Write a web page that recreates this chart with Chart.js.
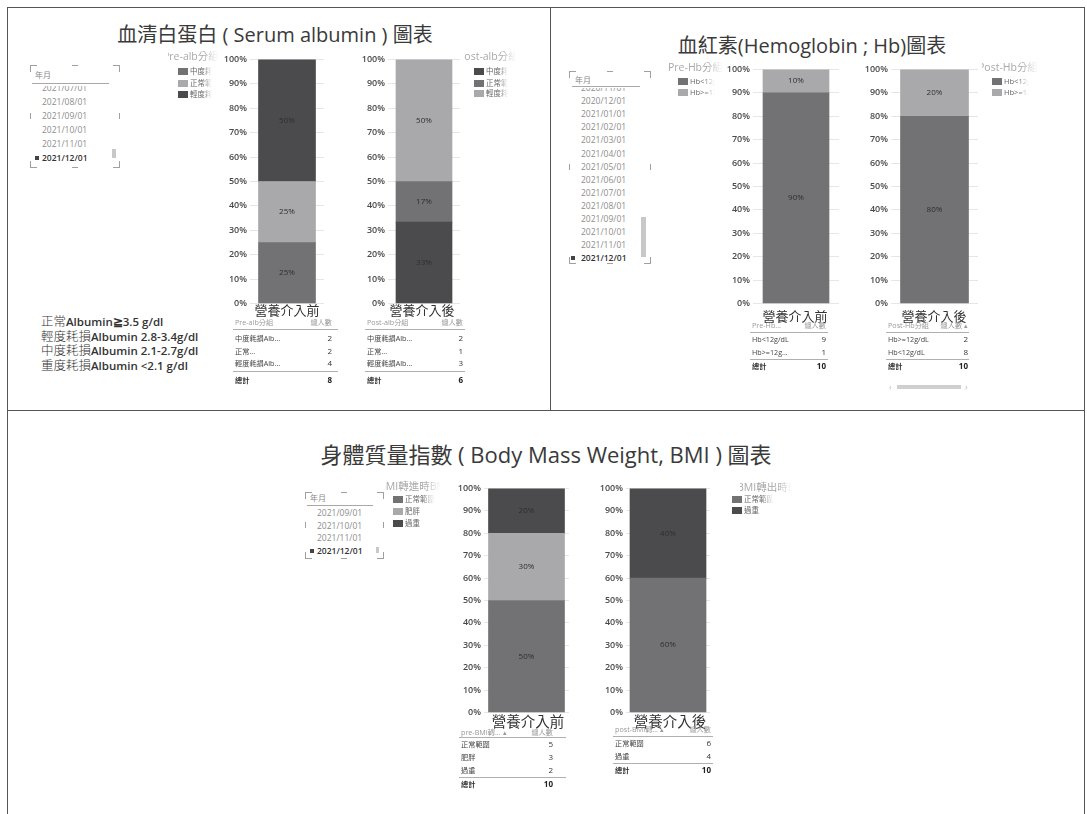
<!DOCTYPE html>
<html>
<head>
<meta charset="utf-8">
<script src="https://cdn.jsdelivr.net/npm/chart.js@4.4.1/dist/chart.umd.min.js"></script>
<style>
  body { margin: 0; background: #fff; font-family: "Open Sans", "Noto Sans CJK TC", sans-serif; }
  #page { position: relative; width: 1087px; height: 814px; overflow: hidden; background: #fff; }
  #page div, #page span { white-space: nowrap; }
  canvas { position: absolute; }
</style>
</head>
<body>
<div id="page"></div>
<script>
// ---- data ----
const pctTicks = [0, 10, 20, 30, 40, 50, 60, 70, 80, 90, 100];

const preAlbGroups = ["中度耗損Alb...", "正常...", "輕度耗損Alb..."];
const preAlbCounts = [2, 2, 4];
const postAlbGroups = ["中度耗損Alb...", "正常...", "輕度耗損Alb..."];
const postAlbCounts = [2, 1, 3];

const preHbGroups = ["Hb<12g/dL", "Hb>=12g..."];
const preHbCounts = [9, 1];
const postHbGroups = ["Hb<12g/dL", "Hb>=12g/dL"];
const postHbCounts = [8, 2];

const preBmiGroups = ["正常範圍", "肥胖", "過重"];
const preBmiCounts = [5, 3, 2];
const postBmiGroups = ["正常範圍", "過重"];
const postBmiCounts = [6, 4];

const albDates = ["2021/07/01", "2021/08/01", "2021/09/01", "2021/10/01", "2021/11/01", "2021/12/01"];
const hbDates = ["2020/11/01", "2020/12/01", "2021/01/01", "2021/02/01", "2021/03/01", "2021/04/01", "2021/05/01",
  "2021/06/01", "2021/07/01", "2021/08/01", "2021/09/01", "2021/10/01", "2021/11/01", "2021/12/01"];
const bmiDates = ["2021/09/01", "2021/10/01", "2021/11/01", "2021/12/01"];

const albNotes = [
  ["正常", "Albumin≧3.5 g/dl"],
  ["輕度耗損", "Albumin 2.8-3.4g/dl"],
  ["中度耗損", "Albumin 2.1-2.7g/dl"],
  ["重度耗損", "Albumin <2.1 g/dl"]
];

// ---- greys ----
const DARK = "#4b4b4d", MID = "#727274", LIGHT = "#a9a9ab";

const page = document.getElementById("page");

function el(css, text) {
  const d = document.createElement("div");
  d.style.cssText = "position:absolute;" + css;
  if (text != null) d.textContent = text;
  page.appendChild(d);
  return d;
}

function hline(x1, x2, y, color, h) {
  el(`left:${x1}px;top:${y}px;width:${x2 - x1}px;height:${h || 1}px;background:${color};`);
}
function vline(x, y1, y2, color, w) {
  el(`left:${x}px;top:${y1}px;width:${w || 1}px;height:${y2 - y1}px;background:${color};`);
}

// frame
hline(7, 1085, 7, "#555");
vline(7, 7, 814, "#555");
vline(1084, 7, 814, "#555");
vline(550, 7, 410, "#555");
hline(7, 1085, 410, "#555");

// titles
function title(cx, cy, text, size) {
  el(`left:${cx}px;top:${cy}px;transform:translate(-50%,-50%);font-size:${size}px;color:#3a3a3a;`, text);
}
title(275, 33, "血清白蛋白 ( Serum albumin ) 圖表", 20);
title(812, 44, "血紅素(Hemoglobin ; Hb)圖表", 20);
title(546, 453, "身體質量指數 ( Body Mass Weight, BMI ) 圖表", 22);

// slicer box with corner marks
function slicer(o) {
  const c = "#a0a0a0", k = 6;
  const { x1, y1, x2, y2 } = o;
  el(`left:${x1}px;top:${y1}px;width:${k}px;height:${k}px;border-left:1px solid ${c};border-top:1px solid ${c};`);
  el(`left:${x2 - k}px;top:${y1}px;width:${k}px;height:${k}px;border-right:1px solid ${c};border-top:1px solid ${c};`);
  el(`left:${x1}px;top:${y2 - k}px;width:${k}px;height:${k}px;border-left:1px solid ${c};border-bottom:1px solid ${c};`);
  el(`left:${x2 - k}px;top:${y2 - k}px;width:${k}px;height:${k}px;border-right:1px solid ${c};border-bottom:1px solid ${c};`);
  const mx = (x1 + x2) / 2, my = (y1 + y2) / 2;
  hline(mx - 3, mx + 3, y1, c);
  hline(mx - 3, mx + 3, y2, c);
  vline(x1, my - 3, my + 3, c);
  vline(x2, my - 3, my + 3, c);
  el(`left:${o.headX}px;top:${o.headY - 6}px;font-size:8px;color:#8a8a8a;`, "年月");
  hline(o.lineX1, o.lineX2, o.lineY, "#a8a8a8");
  const clip = el(`left:${x1}px;top:${o.clipTop}px;width:${x2 - x1}px;height:${o.clipBottom - o.clipTop}px;overflow:hidden;`);
  o.dates.forEach((d, i) => {
    const last = i === o.dates.length - 1;
    const row = document.createElement("div");
    const y = o.firstY + o.step * i - o.clipTop;
    row.style.cssText = `position:absolute;left:${o.dateX - x1}px;top:${y - 6}px;font-size:8.5px;line-height:12px;` +
      (last ? "color:#333;font-weight:600;" : "color:#8d8d8d;");
    row.textContent = d;
    clip.appendChild(row);
    if (last) {
      const b = document.createElement("div");
      b.style.cssText = `position:absolute;left:${o.bulletX - x1}px;top:${y - 2}px;width:4px;height:4px;background:#444;`;
      clip.appendChild(b);
    }
  });
  if (o.thumb) el(`left:${o.thumb[0]}px;top:${o.thumb[1]}px;width:${o.thumb[2]}px;height:${o.thumb[3]}px;background:#c8c8c8;`);
}

slicer({ x1: 30, y1: 65, x2: 119, y2: 167, headX: 35, headY: 75, lineX1: 32, lineX2: 109, lineY: 83,
  clipTop: 86, clipBottom: 165, dates: albDates, dateX: 42, bulletX: 35, firstY: 88, step: 14, thumb: [112, 149, 4, 9] });
slicer({ x1: 569, y1: 71, x2: 650, y2: 263, headX: 575, headY: 80, lineX1: 572, lineX2: 640, lineY: 86,
  clipTop: 88, clipBottom: 263, dates: hbDates, dateX: 581, bulletX: 571, firstY: 88, step: 13.1, thumb: [641, 217, 5, 40] });
slicer({ x1: 305, y1: 492, x2: 383, y2: 558, headX: 310, headY: 498, lineX1: 307, lineX2: 373, lineY: 505,
  clipTop: 506, clipBottom: 558, dates: bmiDates, dateX: 317, bulletX: 310, firstY: 513, step: 12.7, thumb: [376, 547, 3, 6] });

// legends (clipped like a narrow visual, names fade out)
const FADE = "-webkit-mask-image:linear-gradient(to right,#000 70%,transparent);mask-image:linear-gradient(to right,#000 70%,transparent);";
function legend(o, names, colors) {
  const t = el(`left:${o.x}px;top:${o.ty - 7}px;width:${o.tw}px;height:15px;overflow:hidden;${FADE}`);
  const s = document.createElement("div");
  s.style.cssText = `position:absolute;left:${o.toff}px;top:0;font-size:10.5px;line-height:14px;color:#a8a8a8;`;
  s.textContent = o.title;
  t.appendChild(s);
  names.forEach((n, i) => {
    const y = o.iy[i];
    el(`left:${o.sx}px;top:${y - 3}px;width:10px;height:7px;background:${colors[i]};`);
    el(`left:${o.sx + 12}px;top:${y - 6}px;width:${o.nw}px;height:12px;overflow:hidden;font-size:7.5px;line-height:12px;color:#666;` +
      "-webkit-mask-image:linear-gradient(to right,#000 55%,transparent);mask-image:linear-gradient(to right,#000 55%,transparent);", n);
  });
}

legend({ x: 168, ty: 56, tw: 50, toff: -5, title: "Pre-alb分組", sx: 178, iy: [71, 83, 94], nw: 22 },
  ["中度耗損", "正常範圍", "輕度耗損"], [MID, LIGHT, DARK]);
legend({ x: 464, ty: 56, tw: 52, toff: -6, title: "Post-alb分組", sx: 474, iy: [71, 83, 93], nw: 22 },
  ["中度耗損", "正常範圍", "輕度耗損"], [DARK, MID, LIGHT]);
legend({ x: 668, ty: 67, tw: 55, toff: 0, title: "Pre-Hb分組", sx: 678, iy: [81, 92], nw: 25 },
  ["Hb<12g/dL", "Hb>=12g/dL"], [MID, LIGHT]);
legend({ x: 982, ty: 67, tw: 56, toff: -4, title: "Post-Hb分組", sx: 992, iy: [81, 92], nw: 25 },
  ["Hb<12g/dL", "Hb>=12g/dL"], [MID, LIGHT]);
legend({ x: 385, ty: 486, tw: 56, toff: -6, title: "BMI轉進時BMI", sx: 393, iy: [499, 511, 523], nw: 30 },
  ["正常範圍", "肥胖", "過重"], [MID, LIGHT, DARK]);
legend({ x: 740, ty: 487, tw: 52, toff: -3, title: "BMI轉出時BMI", sx: 732, iy: [499, 510], nw: 30 },
  ["正常範圍", "過重"], [MID, DARK]);

// albumin criteria notes
albNotes.forEach((n, i) => {
  const d = el(`left:41px;top:${313 + i * 14.5}px;font-size:11.5px;line-height:15px;color:#333;`);
  d.innerHTML = `<span style="font-family:'Noto Sans CJK TC';font-weight:300;font-size:12.5px">${n[0]}</span>` +
    `<span style="font-family:'Open Sans';font-weight:600">${n[1]}</span>`;
});

// captions under bars
function caption(cx, cy, text, size) {
  el(`left:${cx}px;top:${cy}px;transform:translate(-50%,-50%);font-family:'Noto Sans CJK TC';font-size:${size}px;color:#333;`, text);
}

// small summary tables
function table(o, names, counts) {
  const total = counts.reduce((s, c) => s + c, 0);
  const f = "font-size:7.2px;line-height:10px;";
  el(`left:${o.x + 2}px;top:${o.headY - 5}px;${f}color:#9a9a9a;`, o.headL);
  el(`right:${1087 - o.x - o.w + o.inset}px;text-align:right;top:${o.headY - 5}px;${f}color:#9a9a9a;`, o.headR);
  hline(o.x, o.x + o.w, o.lineY, "#b0b0b0");
  names.forEach((n, i) => {
    const y = o.rowY0 + o.step * i;
    el(`left:${o.x + 2}px;top:${y - 5}px;${f}color:#444;`, n);
    el(`right:${1087 - o.x - o.w + o.inset}px;text-align:right;top:${y - 5}px;font-size:8px;line-height:10px;color:#333;`, String(counts[i]));
  });
  hline(o.x, o.x + o.w, o.line2Y, "#b0b0b0");
  el(`left:${o.x + 2}px;top:${o.totalY - 5}px;${f}color:#333;font-weight:700;`, "總計");
  el(`right:${1087 - o.x - o.w + o.inset}px;text-align:right;top:${o.totalY - 5}px;font-size:8px;line-height:10px;color:#222;font-weight:700;`, String(total));
}

// percentage labels inside the stacked segments
const segLabels = {
  id: "segLabels",
  afterDatasetsDraw(chart) {
    const ctx = chart.ctx;
    ctx.save();
    ctx.font = '8px "Open Sans", sans-serif';
    ctx.fillStyle = "#2e2e2e";
    ctx.textAlign = "center";
    ctx.textBaseline = "middle";
    chart.data.datasets.forEach((ds, i) => {
      const bar = chart.getDatasetMeta(i).data[0];
      ctx.fillText(Math.round(ds.data[0]) + "%", bar.x, (bar.y + bar.base) / 2);
    });
    ctx.restore();
  }
};

const AXIS_W = 34, PAD = 8;
function stackChart(box, groups, counts, colors) {
  const total = counts.reduce((s, c) => s + c, 0);
  const cv = document.createElement("canvas");
  const left = box.L - AXIS_W, top = box.T - PAD;
  cv.width = box.R - left;
  cv.height = box.B - box.T + PAD * 2;
  cv.style.left = left + "px";
  cv.style.top = top + "px";
  page.appendChild(cv);
  new Chart(cv, {
    type: "bar",
    data: {
      labels: [""],
      datasets: groups.map((g, i) => ({
        label: g,
        data: [counts[i] / total * 100],
        backgroundColor: colors[i],
        barThickness: box.bar
      }))
    },
    options: {
      responsive: false,
      animation: false,
      layout: { padding: { top: PAD, bottom: PAD, left: 0, right: 0 } },
      plugins: { legend: { display: false }, tooltip: { enabled: false } },
      scales: {
        x: { stacked: true, display: false },
        y: {
          stacked: true, min: 0, max: 100,
          afterBuildTicks: s => { s.ticks = pctTicks.map(v => ({ value: v })); },
          afterFit: s => { s.width = AXIS_W; },
          ticks: { callback: v => v + "%", color: "#4a4a4a", padding: 3, font: { family: "Open Sans", size: 9, weight: "600" } },
          grid: { color: "#e6e6e6", drawTicks: false },
          border: { display: false }
        }
      }
    },
    plugins: [segLabels]
  });
}

// serum albumin
stackChart({ L: 250, R: 324, T: 59, B: 304, bar: 57 }, preAlbGroups, preAlbCounts, [MID, LIGHT, DARK]);
stackChart({ L: 388, R: 460, T: 59, B: 304, bar: 56 }, postAlbGroups, postAlbCounts, [DARK, MID, LIGHT]);
caption(287, 309, "營養介入前", 13);
caption(422, 309, "營養介入後", 13);
table({ x: 233, w: 105, inset: 6, headY: 322, lineY: 329, rowY0: 338, step: 12.5, line2Y: 371, totalY: 380,
  headL: "Pre-alb分組", headR: "總人數" }, preAlbGroups, preAlbCounts);
table({ x: 365, w: 100, inset: 2, headY: 322, lineY: 329, rowY0: 338, step: 12.5, line2Y: 371, totalY: 380,
  headL: "Post-alb分組", headR: "總人數" }, postAlbGroups, postAlbCounts);

// hemoglobin
stackChart({ L: 753, R: 839, T: 69, B: 304, bar: 66 }, preHbGroups, preHbCounts, [MID, LIGHT]);
stackChart({ L: 891, R: 978, T: 69, B: 304, bar: 68 }, postHbGroups, postHbCounts, [MID, LIGHT]);
caption(795, 315, "營養介入前", 13);
caption(934, 315, "營養介入後", 13);
table({ x: 750, w: 78, inset: 2, headY: 325, lineY: 332, rowY0: 339, step: 13, line2Y: 359, totalY: 366,
  headL: "Pre-Hb...", headR: "總人數" }, ["Hb<12g/dL", "Hb>=12g..."], preHbCounts);
// post table is sorted ascending by count
const postHbOrder = postHbCounts.map((c, i) => i).sort((a, b) => postHbCounts[a] - postHbCounts[b]);
table({ x: 886, w: 83, inset: 1, headY: 325, lineY: 332, rowY0: 339, step: 13, line2Y: 359, totalY: 366,
  headL: "Post-Hb分組", headR: "總人數 ▴" }, postHbOrder.map(i => postHbGroups[i]), postHbOrder.map(i => postHbCounts[i]));
el("left:889px;top:381px;font-size:9px;line-height:12px;color:#bbb;", "‹");
el("left:897px;top:385px;width:64px;height:4px;background:#cfcfcf;");
el("left:965px;top:381px;font-size:9px;line-height:12px;color:#bbb;", "›");

// BMI
stackChart({ L: 484, R: 569, T: 488, B: 713, bar: 76 }, preBmiGroups, preBmiCounts, [MID, LIGHT, DARK]);
stackChart({ L: 626, R: 710, T: 488, B: 713, bar: 76 }, postBmiGroups, postBmiCounts, [MID, DARK]);
caption(528, 720, "營養介入前", 14.5);
caption(670, 720, "營養介入後", 14.5);
table({ x: 459, w: 107, inset: 13, headY: 732, lineY: 737, rowY0: 744, step: 13, line2Y: 777, totalY: 784,
  headL: "pre-BMI轉... ▴", headR: "總人數" }, preBmiGroups, preBmiCounts);
table({ x: 613, w: 100, inset: 2, headY: 729, lineY: 736, rowY0: 743, step: 13, line2Y: 763, totalY: 770,
  headL: "post-BMI轉... ▴", headR: "總人數" }, postBmiGroups, postBmiCounts);
</script>
</body>
</html>
